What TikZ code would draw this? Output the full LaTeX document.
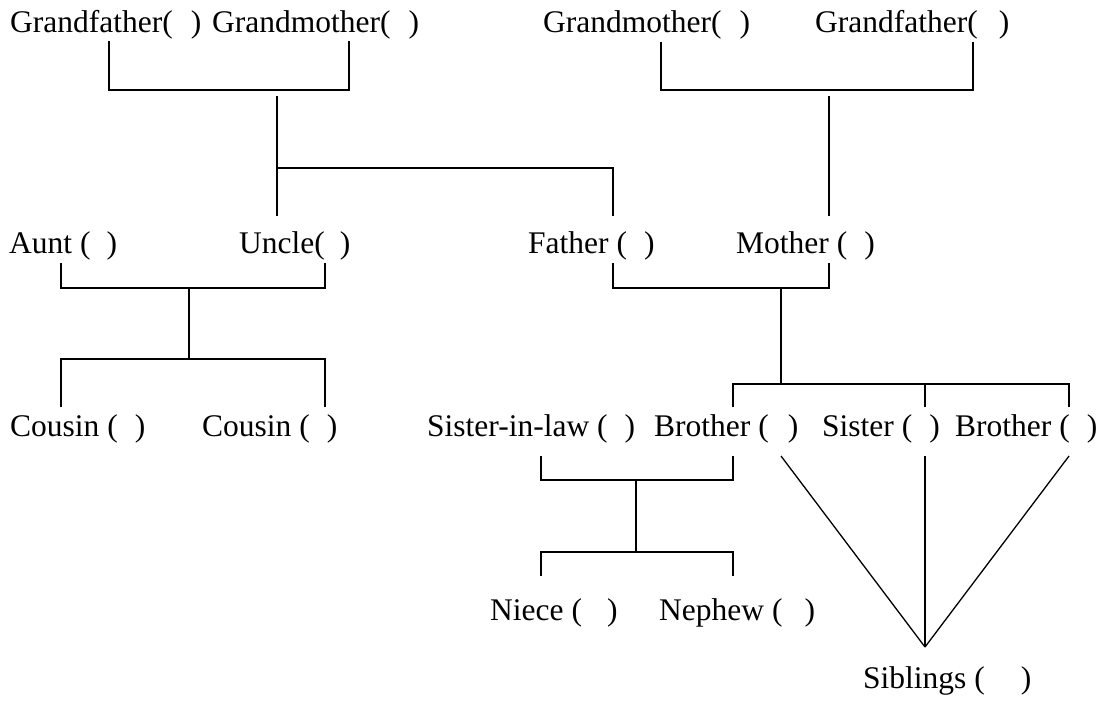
\documentclass[tikz,border=0pt]{standalone}
\usepackage{fontspec}
\setmainfont{Liberation Serif}
\newcommand{\blank}[1]{\hspace*{#1pt}}
\begin{document}
\begin{tikzpicture}[x=1pt,y=-1pt,
  lbl/.style={anchor=base west,inner sep=0pt,font=\fontsize{31.5}{36}\selectfont},
  link/.style={line width=2pt},
  thin/.style={line width=1.3pt}]
\useasboundingbox[fill=white] (0,0) rectangle (1102,704);

% grandparents
\node[lbl] (gfL) at (10,32)  {Grandfather(\blank{18})};
\node[lbl] (gmL) at (212,32) {Grandmother(\blank{18})};
\node[lbl] (gmR) at (543,32) {Grandmother(\blank{18})};
\node[lbl] (gfR) at (815,32) {Grandfather(\blank{21})};
% parents' generation
\node[lbl] (aunt)   at (9,253)   {Aunt (\blank{16})};
\node[lbl] (uncle)  at (239,253) {Uncle(\blank{15})};
\node[lbl] (father) at (528,253) {Father (\blank{17})};
\node[lbl] (mother) at (736,253) {Mother (\blank{17})};
% own generation
\node[lbl] (cous1) at (10,436)  {Cousin (\blank{17})};
\node[lbl] (cous2) at (202,436) {Cousin (\blank{17})};
\node[lbl] (sil)   at (427,436) {Sister-in-law (\blank{17})};
\node[lbl] (bro1)  at (654,436) {Brother (\blank{19})};
\node[lbl] (sis)   at (822,436) {Sister (\blank{17})};
\node[lbl] (bro2)  at (955,436) {Brother (\blank{17})};
% next generation
\node[lbl] (niece)  at (490,620) {Niece (\blank{25})};
\node[lbl] (nephew) at (659,620) {Nephew (\blank{22})};
\node[lbl] (sibs)   at (863,688) {Siblings (\blank{36})};

% connector end points
\coordinate (gfLd) at (109,41);  \coordinate (gmLd) at (349,41);
\coordinate (gmRd) at (661,42);  \coordinate (gfRd) at (973,42);
\coordinate (uncleU) at (277,216); \coordinate (fatherU) at (613,216);
\coordinate (motherU) at (829,216);
\coordinate (auntD) at (61,263);  \coordinate (uncleD) at (325,263);
\coordinate (fatherD) at (613,263); \coordinate (motherD) at (829,263);
\coordinate (cous1U) at (61,407); \coordinate (cous2U) at (325,407);
\coordinate (bro1U) at (733,407); \coordinate (sisU) at (925,407);
\coordinate (bro2U) at (1069,407);
\coordinate (silD) at (541,456); \coordinate (bro1D) at (733,456);
\coordinate (nieceU) at (541,576); \coordinate (nephewU) at (733,576);
\coordinate (bro1S) at (781,456); \coordinate (sisS) at (925,456);
\coordinate (bro2S) at (1069,456); \coordinate (apex) at (925,647);

% paternal grandparents
\draw[link] (gfLd) |- (349,90) -- (gmLd);
\draw[link] (277,96) -- (uncleU);
\draw[link] (277,168) -| (fatherU);
% maternal grandparents
\draw[link] (gmRd) |- (973,90) -- (gfRd);
\draw[link] (829,96) -- (motherU);
% aunt and uncle
\draw[link] (auntD) |- (325,288) -- (uncleD);
\draw[link] (189,288) -- (189,359);
\draw[link] (cous1U) |- (325,359) -- (cous2U);
% father and mother
\draw[link] (fatherD) |- (829,288) -- (motherD);
\draw[link] (781,288) -- (781,384);
\draw[link] (bro1U) |- (1069,384) -- (bro2U);
\draw[link] (925,384) -- (sisU);
% brother and sister-in-law
\draw[link] (silD) |- (733,480) -- (bro1D);
\draw[link] (636,480) -- (636,552);
\draw[link] (nieceU) |- (733,552) -- (nephewU);
% siblings
\draw[thin] (bro1S) -- (apex);
\draw[thin] (sisS) -- (apex);
\draw[thin] (bro2S) -- (apex);
\end{tikzpicture}
\end{document}
